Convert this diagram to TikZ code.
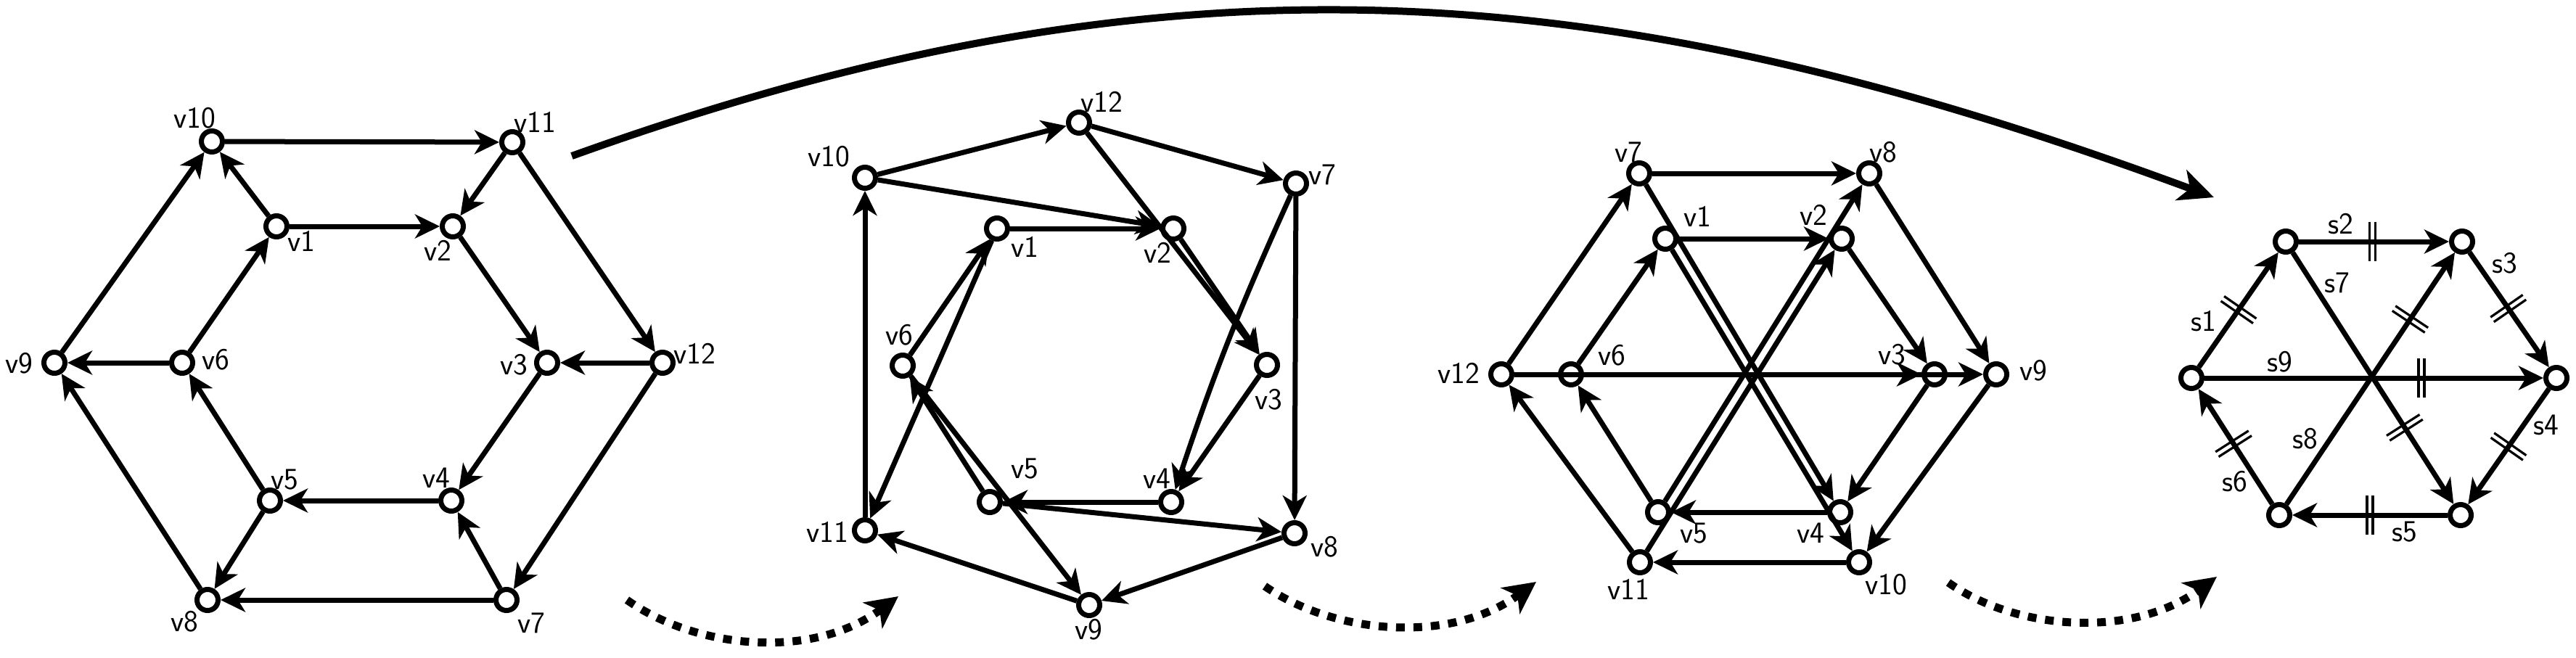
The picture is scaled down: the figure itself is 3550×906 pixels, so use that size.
\documentclass[tikz,border=0pt]{standalone}
\usepackage{fontspec}
\usetikzlibrary{arrows.meta,calc}
\tikzset{
  x=1pt,y=-1pt,
  vert/.style={circle,draw=black,fill=white,line width=7pt,minimum size=29pt,inner sep=0pt},
  lab/.style={anchor=base,inner sep=0pt,font=\sffamily\fontsize{42}{42}\selectfont},
  edge/.style={line width=7pt,-{Stealth[length=34pt,width=33pt,inset=10pt]}},
  tickline/.style={line width=3.2pt},
  bigarc/.style={line width=10pt,-{Stealth[length=48pt,width=44pt,inset=13pt]}},
  dotarc/.style={line width=11pt,dash pattern=on 12pt off 12pt,-{Stealth[length=44pt,width=44pt,inset=12pt]}}
}
\newcommand{\dtick}[3]{%
  \coordinate (tk) at ($(#1)!#3!(#2)$);
  \foreach \o in {-4,4}{
    \draw[tickline] ($(tk)!\o pt!(#2)!27pt!90:(#2)$) -- ($(tk)!\o pt!(#2)!27pt!-90:(#2)$);
  }}
\begin{document}
\begin{tikzpicture}
\useasboundingbox (0,0) rectangle (3550,906);
% graph 1
\foreach \n/\x/\y in {1/381/312,2/624/312,3/754/500,4/622/690,5/372/690,6/251/500,7/698/827,8/286/827,9/75/500,10/292/195,11/706/196,12/913/500}
  \node[vert] (a\n) at (\x,\y) {};
\foreach \s/\t in {10/11,1/10,1/2,11/2,11/12,2/3,12/3,12/7,3/4,4/5,7/4,7/8,5/8,5/6,8/9,6/9,6/1,9/10}
  \draw[edge] (a\s) -- (a\t);
\foreach \n/\x/\y in {1/415/346,2/603/359,3/708/516,4/601/672,5/392/674,6/297/509,7/732/872,8/254/870,9/26/514,10/268/176,11/737/182,12/957/501}
  \node[lab] (la\n) at (\x,\y) {v\n};
% graph 2
\foreach \n/\x/\y in {1/1374/315,2/1617/315,3/1746/503,4/1614/692,5/1364/692,6/1244/504,7/1786/253,8/1784/735,9/1501/834,10/1192/245,11/1192/731,12/1487/169}
  \node[vert] (b\n) at (\x,\y) {};
\foreach \s/\t in {10/12,12/7,10/2,1/2,12/3,2/3,3/4,7/8,4/5,5/8,8/9,9/11,11/10,1/11,6/1,5/6,6/9}
  \draw[edge] (b\s) -- (b\t);
\draw[edge] (b7) to[bend right=3] (b4);
\foreach \n/\x/\y in {1/1412/354,2/1595/362,3/1748/564,4/1594/673,5/1412/659,6/1239/475,7/1822/254,8/1825/767,9/1500/881,10/1142/229,11/1140/747,12/1518/154}
  \node[lab] (lb\n) at (\x,\y) {v\n};
% graph 3
\foreach \n/\x/\y in {1/2295/329,2/2538/329,3/2666/516,4/2536/706,5/2285/706,6/2165/516,7/2259/239,8/2576/239,9/2751/516,10/2562/775,11/2260/775,12/2069/516}
  \node[vert] (c\n) at (\x,\y) {};
\foreach \s/\t in {7/8,1/2,12/7,6/1,12/9,6/3,2/3,8/9,3/4,9/10,4/5,10/11,5/6,11/12,7/4,1/10,5/8,11/2}
  \draw[edge] (c\s) -- (c\t);
\foreach \n/\x/\y in {1/2339/312,2/2499/310,3/2607/502,4/2495/748,5/2334/748,6/2221/503,7/2244/223,8/2595/223,9/2802/524,10/2599/819,11/2244/826,12/2010/528}
  \node[lab] (lc\n) at (\x,\y) {v\n};
% graph 4
\node[vert] (f) at (3020,521) {};
\node[vert] (g) at (3150,333) {};
\node[vert] (h) at (3393,333) {};
\node[vert] (i) at (3523,521) {};
\node[vert] (j) at (3391,710) {};
\node[vert] (k) at (3141,710) {};
\foreach \s/\t in {f/g,g/h,h/i,i/j,j/k,k/f,g/j,k/h,f/i}
  \draw[edge] (\s) -- (\t);
\dtick{f}{g}{0.5}
\dtick{g}{h}{0.49}
\dtick{h}{i}{0.49}
\dtick{i}{j}{0.5}
\dtick{j}{k}{0.5}
\dtick{k}{f}{0.52}
\dtick{g}{j}{0.68}
\dtick{k}{h}{0.716}
\dtick{f}{i}{0.63}
\foreach \n/\x/\y in {1/3037/456,2/3226/322,3/3452/376,4/3509/599,5/3314/746,6/3080/677,7/3221/403,8/3177/618,9/3142/512}
  \node[lab] (ls\n) at (\x,\y) {s\n};
% curved arrows
\coordinate (arcS) at (788,215);
\coordinate (arcE) at (3051,272);
\draw[bigarc] (arcS) .. controls (1618,-84) and (2221,-35) .. (arcE);
\coordinate (d1S) at (864,827);
\coordinate (d1E) at (1238,822);
\draw[dotarc] (d1S) .. controls (960,895) and (1120,910) .. (d1E);
\coordinate (d2S) at (1743,808);
\coordinate (d2E) at (2117,802);
\draw[dotarc] (d2S) .. controls (1840,875) and (2000,888) .. (d2E);
\coordinate (d3S) at (2685,803);
\coordinate (d3E) at (3055,795);
\draw[dotarc] (d3S) .. controls (2780,870) and (2940,880) .. (d3E);
\end{tikzpicture}
\end{document}
